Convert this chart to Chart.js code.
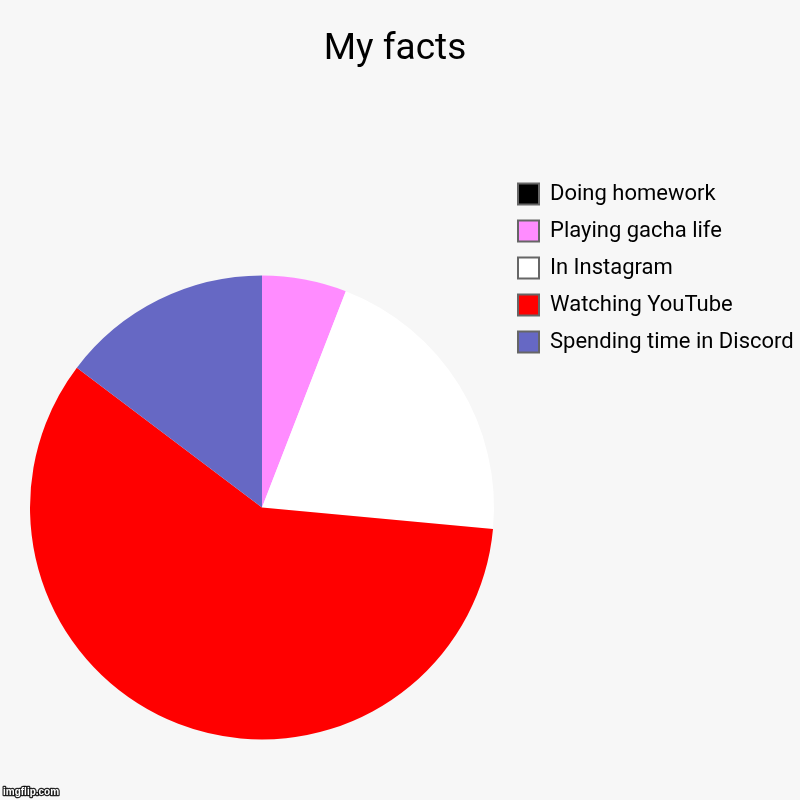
<!DOCTYPE html>
<html>
<head>
<meta charset="utf-8">
<script src="https://cdn.jsdelivr.net/npm/chart.js@4/dist/chart.umd.min.js"></script>
<style>
  html, body { margin: 0; padding: 0; background: #f7f7f7; }
  #wrap { width: 800px; height: 800px; }
</style>
</head>
<body>
<div id="wrap"><canvas id="pie" width="800" height="800"></canvas></div>
<script>
// values (slice angles ~21deg, 74deg, 212deg, 53deg)
const categories = ['Doing homework', 'Playing gacha life', 'In Instagram', 'Watching YouTube', 'Spending time in Discord'];
const hours = [0, 2, 7, 20, 5];
const sliceColors = ['#000000', '#ff8cff', '#ffffff', '#ff0000', '#6668c4'];
const chartTitle = 'My facts';

// pin the pie and the legend where the original puts them
const placeThings = {
    id: 'placeThings',
    afterLayout(chart) {
        const left = 30, top = 275.5, size = 464;
        chart.chartArea = {
            left: left, top: top, right: left + size, bottom: top + size,
            width: size, height: size
        };
        const lg = chart.legend;
        const w = lg.width, h = lg.height;
        lg.left = 503;
        lg.right = 503 + w;
        lg.top = 168;
        lg.bottom = 168 + h;
    }
};

// little site stamp bottom left
const stamp = {
    id: 'stamp',
    afterDraw(chart) {
        const ctx = chart.ctx;
        ctx.save();
        ctx.font = 'bold 10px "Liberation Sans", Arial, sans-serif';
        ctx.textBaseline = 'alphabetic';
        ctx.lineJoin = 'round';
        ctx.lineWidth = 2.5;
        ctx.strokeStyle = 'rgba(0,0,0,0.85)';
        ctx.strokeText('imgflip.com', 3, 795);
        ctx.fillStyle = '#ffffff';
        ctx.fillText('imgflip.com', 3, 795);
        ctx.restore();
    }
};

const ctx = document.getElementById('pie');
const pieChart = new Chart(ctx, {
    type: 'pie',
    data: {
        labels: categories,
        datasets: [{
            data: hours,
            backgroundColor: sliceColors,
            borderWidth: 0,
            hoverBorderWidth: 0,
            hoverOffset: 0,
            offset: 0
        }]
    },
    options: {
        responsive: false,
        animation: false,
        layout: { padding: { left: 0, right: 10, top: 0, bottom: 0 } },
        plugins: {
            title: {
                display: true,
                text: chartTitle,
                color: '#000',
                font: { family: 'Roboto', size: 37, weight: 'normal' },
                padding: { top: 28, bottom: 86 }
            },
            legend: {
                position: 'right',
                align: 'start',
                labels: {
                    color: '#000',
                    font: { family: 'Roboto', size: 22 },
                    boxWidth: 21,
                    boxHeight: 21,
                    padding: 15,
                    generateLabels(chart) {
                        const items = Chart.overrides.pie.plugins.legend.labels.generateLabels(chart);
                        items.forEach(it => {
                            it.strokeStyle = '#666666';
                            it.lineWidth = 2;
                        });
                        return items;
                    }
                },
                onClick: null
            },
            tooltip: { enabled: false }
        }
    },
    plugins: [placeThings, stamp]
});
</script>
</body>
</html>
